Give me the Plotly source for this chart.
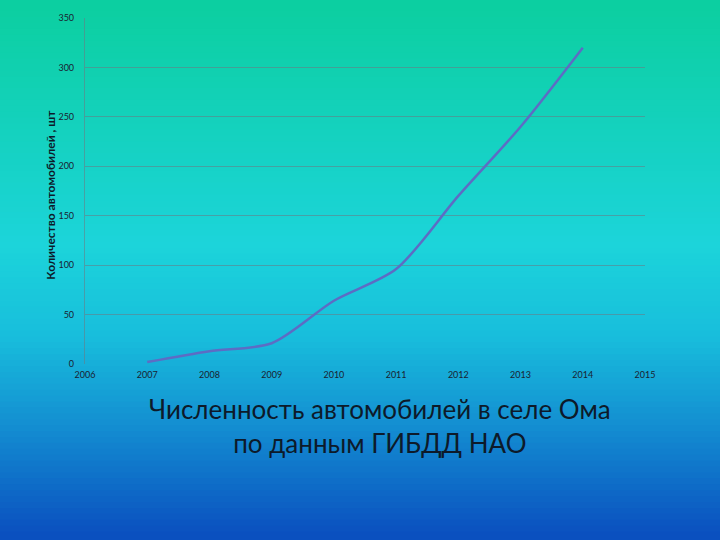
import plotly.graph_objects as go

# Data
years = [2007, 2008, 2009, 2010, 2011, 2012, 2013, 2014]
cars = [2, 13, 21, 64, 96, 170, 240, 320]
x_ticks = list(range(2006, 2016))
y_ticks = list(range(0, 351, 50))

title_text = "Численность автомобилей в селе Ома<br>по данным ГИБДД НАО"
y_title = "Количество автомобилей , шт"

# background gradient stops (top -> bottom)
grad_stops = [(0.0, (12, 207, 160)), (0.45, (28, 212, 218)), (0.62, (24, 190, 220)),
              (0.78, (20, 145, 210)), (1.0, (10, 78, 190))]


def grad_color(t):
    for (t0, c0), (t1, c1) in zip(grad_stops[:-1], grad_stops[1:]):
        if t0 <= t <= t1:
            f = (t - t0) / (t1 - t0)
            return 'rgb(%d,%d,%d)' % tuple(round(a + (b - a) * f) for a, b in zip(c0, c1))
    return 'rgb(%d,%d,%d)' % grad_stops[-1][1]


W, H = 720, 540
ml, mr, mt, mb = 85, 75, 13, 176
ph = H - mt - mb
pw = W - ml - mr

# horizontal bands in paper coords covering the whole page
shapes = []
n = 90
for i in range(n):
    top_px = H * i / n - (20 if i == 0 else 0)
    bot_px = H * (i + 1) / n + (20 if i == n - 1 else 1)
    shapes.append(dict(type='rect', xref='paper', yref='paper',
                       x0=-(ml + 10) / pw, x1=1 + (mr + 10) / pw,
                       y0=1 - (bot_px - mt) / ph, y1=1 - (top_px - mt) / ph,
                       fillcolor=grad_color((i + 0.5) / n),
                       line=dict(width=0), layer='below'))

fig = go.Figure()
fig.add_trace(go.Scatter(x=years, y=cars, mode='lines',
                         line=dict(color='#5d6cc4', width=2.5, shape='spline', smoothing=0.8),
                         showlegend=False))

fig.update_layout(
    width=W, height=H,
    margin=dict(l=ml, r=mr, t=mt, b=mb),
    paper_bgcolor='rgb(12,207,160)',
    plot_bgcolor='rgba(0,0,0,0)',
    shapes=shapes,
    font=dict(family='Lato', color='#1a2230'),
    xaxis=dict(range=[2006, 2015], tickvals=x_ticks, showgrid=False, zeroline=False,
               showline=False, ticks='', tickfont=dict(size=9), ticklabelstandoff=4),
    yaxis=dict(range=[0, 350], tickvals=y_ticks, showgrid=True,
               gridcolor='rgba(110,120,130,0.55)', gridwidth=1.2, zeroline=False,
               showline=True, linecolor='rgba(110,120,130,0.55)', linewidth=1.2,
               ticks='', tickfont=dict(size=9), ticklabelstandoff=8),
    annotations=[
        dict(text=title_text, xref='paper', yref='paper', x=0.526, y=-0.078,
             xanchor='center', yanchor='top', showarrow=False,
             font=dict(size=26, color='#0d1a2a', family='Lato')),
        dict(text='<b>' + y_title + '</b>', xref='paper', yref='paper', x=-0.062, y=0.49,
             xanchor='center', yanchor='middle', textangle=-90, showarrow=False,
             font=dict(size=12, color='#0d1a2a', family='Lato')),
    ],
)

fig.write_html("out.html", config={'displayModeBar': False},
               post_script="document.body.style.margin='0';")
